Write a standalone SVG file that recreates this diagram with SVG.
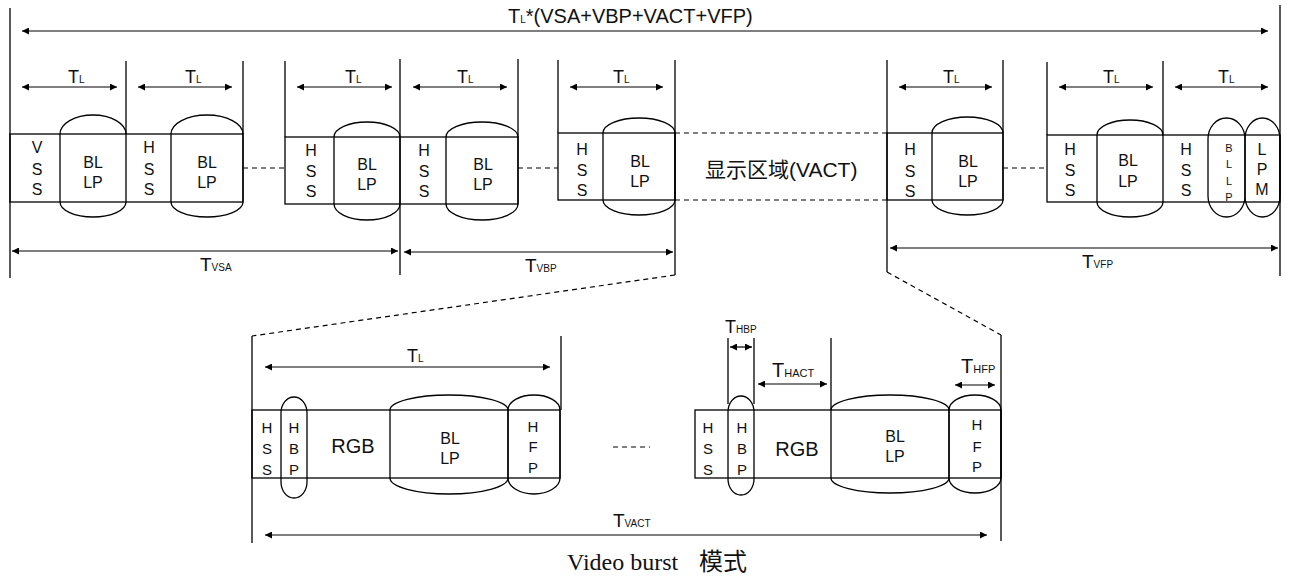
<svg xmlns="http://www.w3.org/2000/svg" width="1290" height="583" viewBox="0 0 1290 583">
<defs>
<marker id="ah" viewBox="0 0 10 10" refX="10" refY="5" markerWidth="9" markerHeight="7" markerUnits="userSpaceOnUse" orient="auto-start-reverse"><path d="M0,0 L10,5 L0,10 z" fill="#000"/></marker>
<style>
.ln{stroke:#000;stroke-width:1.3;fill:none}
.ar{stroke:#000;stroke-width:1.2;fill:none;marker-start:url(#ah);marker-end:url(#ah)}
.dash{stroke:#000;stroke-width:1.2;fill:none;stroke-dasharray:5 4}
.sh{stroke:#000;stroke-width:1.3;fill:none}
.t{font-family:"Liberation Sans","Noto Sans",sans-serif;font-size:16px;fill:#111;text-anchor:middle}
.s{font-size:15px}
.xs{font-size:11px}
.lb{font-family:"Liberation Sans","Noto Sans",sans-serif;fill:#111;font-size:19px}
.sub{font-size:10px}
.cap{font-family:"Liberation Serif","Noto Sans CJK SC",serif;font-size:24px;fill:#111}
</style>
</defs>

<g id="connectors">
  <line class="ln" x1="10" y1="8" x2="10" y2="278"/>
  <line class="ln" x1="1280" y1="5" x2="1280" y2="276"/>
  <line class="ln" x1="126" y1="61" x2="126" y2="134"/>
  <line class="ln" x1="243" y1="61" x2="243" y2="134"/>
  <line class="ln" x1="285" y1="61" x2="285" y2="137"/>
  <line class="ln" x1="400" y1="59" x2="400" y2="275"/>
  <line class="ln" x1="518" y1="59" x2="518" y2="137"/>
  <line class="ln" x1="558" y1="60" x2="558" y2="133"/>
  <line class="ln" x1="675" y1="60" x2="675" y2="275"/>
  <line class="ln" x1="887" y1="60" x2="887" y2="272"/>
  <line class="ln" x1="1003" y1="60" x2="1003" y2="133"/>
  <line class="ln" x1="1047" y1="62" x2="1047" y2="135"/>
  <line class="ln" x1="1163" y1="61" x2="1163" y2="135"/>
  <line class="ar" x1="22" y1="31" x2="1268" y2="31"/>
  <line class="ar" x1="22" y1="87" x2="117" y2="87"/>
  <line class="ar" x1="138" y1="87" x2="232" y2="87"/>
  <line class="ar" x1="297" y1="87" x2="392" y2="87"/>
  <line class="ar" x1="413" y1="87" x2="507" y2="87"/>
  <line class="ar" x1="570" y1="87" x2="663" y2="87"/>
  <line class="ar" x1="899" y1="87" x2="992" y2="87"/>
  <line class="ar" x1="1059" y1="87" x2="1153" y2="87"/>
  <line class="ar" x1="1175" y1="87" x2="1268" y2="87"/>
  <line class="ar" x1="12" y1="251" x2="398" y2="251"/>
  <line class="ar" x1="404" y1="252" x2="673" y2="252"/>
  <line class="ar" x1="890" y1="248" x2="1278" y2="248"/>
  <line class="dash" x1="243" y1="168" x2="285" y2="168"/>
  <line class="dash" x1="518" y1="168" x2="558" y2="168"/>
  <line class="dash" x1="1003" y1="168" x2="1047" y2="168"/>
  <line class="dash" x1="675" y1="133" x2="887" y2="133"/>
  <line class="dash" x1="675" y1="200" x2="887" y2="200"/>
  <line class="dash" x1="675" y1="275" x2="252" y2="336"/>
  <line class="dash" x1="887" y1="272" x2="1001" y2="335"/>
  <line class="ln" x1="252" y1="336" x2="252" y2="543"/>
  <line class="ln" x1="561" y1="336" x2="561" y2="410"/>
  <line class="ln" x1="1001" y1="335" x2="1001" y2="541"/>
  <line class="ln" x1="728" y1="338" x2="728" y2="404"/>
  <line class="ln" x1="754" y1="338" x2="754" y2="404"/>
  <line class="ln" x1="831" y1="338" x2="831" y2="410"/>
  <line class="ar" x1="265" y1="367" x2="550" y2="367"/>
  <line class="ar" x1="265" y1="535" x2="987" y2="535"/>
  <line class="ar" x1="730" y1="347" x2="752" y2="347"/>
  <line class="ar" x1="758" y1="384" x2="827" y2="384"/>
  <line class="ar" x1="955" y1="385" x2="995" y2="385"/>
  <line class="dash" x1="613" y1="447" x2="650" y2="447"/>
</g>

<g id="labels">
  <text class="lb" x="508" y="23" style="font-size:20px">T<tspan class="sub">L</tspan>*(VSA+VBP+VACT+VFP)</text>
  <text class="lb" x="68" y="83" style="font-size:18px">T<tspan class="sub">L</tspan></text>
  <text class="lb" x="185" y="83" style="font-size:18px">T<tspan class="sub">L</tspan></text>
  <text class="lb" x="345" y="83" style="font-size:18px">T<tspan class="sub">L</tspan></text>
  <text class="lb" x="457" y="83" style="font-size:18px">T<tspan class="sub">L</tspan></text>
  <text class="lb" x="613" y="83" style="font-size:18px">T<tspan class="sub">L</tspan></text>
  <text class="lb" x="943" y="83" style="font-size:18px">T<tspan class="sub">L</tspan></text>
  <text class="lb" x="1103" y="83" style="font-size:18px">T<tspan class="sub">L</tspan></text>
  <text class="lb" x="1218" y="83" style="font-size:18px">T<tspan class="sub">L</tspan></text>
  <text class="lb" x="200" y="271">T<tspan class="sub">VSA</tspan></text>
  <text class="lb" x="525" y="272">T<tspan class="sub">VBP</tspan></text>
  <text class="lb" x="1082" y="268">T<tspan class="sub">VFP</tspan></text>
  <text class="lb" x="705" y="177" style="font-family:'Liberation Sans','Noto Sans CJK SC',sans-serif;font-size:21px">显示区域(VACT)</text>
  <text class="lb" x="407" y="362" style="font-size:18px">T<tspan class="sub">L</tspan></text>
  <text class="lb" x="613" y="527">T<tspan class="sub">VACT</tspan></text>
  <text class="lb" x="725" y="333" style="font-size:18px">T<tspan class="sub">HBP</tspan></text>
  <text class="lb" x="772" y="377" style="font-size:20px">T<tspan class="sub" style="font-size:11px">HACT</tspan></text>
  <text class="lb" x="961" y="373" style="font-size:20px">T<tspan class="sub" style="font-size:11px">HFP</tspan></text>
  <text class="cap" x="567" y="570">Video burst <tspan x="699">模式</tspan></text>
</g>

<g id="block-vsa">
  <rect class="sh" x="10" y="134" width="233" height="68"/>
  <path class="sh" d="M60,134 V202 A33,15 0 0 0 126,202 V134 A33,19 0 0 0 60,134 Z"/>
  <path class="sh" d="M171,134 V202 A36,15 0 0 0 243,202 V134 A36,19 0 0 0 171,134 Z"/>
  <text class="t" x="37" y="153">V</text><text class="t" x="37" y="175">S</text><text class="t" x="37" y="195">S</text>
  <text class="t" x="93" y="168">BL</text><text class="t" x="93" y="188">LP</text>
  <text class="t" x="149" y="153">H</text><text class="t" x="149" y="175">S</text><text class="t" x="149" y="195">S</text>
  <text class="t" x="207" y="168">BL</text><text class="t" x="207" y="188">LP</text>
</g>

<g id="block-vbp-1">
  <rect class="sh" x="285" y="137" width="233" height="67"/>
  <path class="sh" d="M334,137 V204 A33,16 0 0 0 400,204 V137 A33,15 0 0 0 334,137 Z"/>
  <path class="sh" d="M446,137 V204 A36,16 0 0 0 518,204 V137 A36,15 0 0 0 446,137 Z"/>
  <text class="t" x="311" y="156">H</text><text class="t" x="311" y="177">S</text><text class="t" x="311" y="197">S</text>
  <text class="t" x="367" y="170">BL</text><text class="t" x="367" y="190">LP</text>
  <text class="t" x="424" y="156">H</text><text class="t" x="424" y="177">S</text><text class="t" x="424" y="197">S</text>
  <text class="t" x="483" y="170">BL</text><text class="t" x="483" y="190">LP</text>
</g>

<g id="block-vbp-2">
  <rect class="sh" x="558" y="133" width="117" height="67"/>
  <path class="sh" d="M603,133 V200 A36,15 0 0 0 675,200 V133 A36,15 0 0 0 603,133 Z"/>
  <text class="t" x="582" y="155">H</text><text class="t" x="582" y="176">S</text><text class="t" x="582" y="196">S</text>
  <text class="t" x="640" y="167">BL</text><text class="t" x="640" y="187">LP</text>
</g>

<g id="block-vfp-1">
  <rect class="sh" x="887" y="133" width="116" height="67"/>
  <path class="sh" d="M932,133 V200 A35.5,15 0 0 0 1003,200 V133 A35.5,16 0 0 0 932,133 Z"/>
  <text class="t" x="910" y="155">H</text><text class="t" x="910" y="177">S</text><text class="t" x="910" y="197">S</text>
  <text class="t" x="968" y="167">BL</text><text class="t" x="968" y="187">LP</text>
</g>

<g id="block-vfp-2">
  <rect class="sh" x="1047" y="135" width="233" height="67"/>
  <path class="sh" d="M1097,135 V202 A33,15 0 0 0 1163,202 V135 A33,15 0 0 0 1097,135 Z"/>
  <rect class="sh" x="1208" y="118" width="37" height="99" rx="18.5" ry="21"/>
  <rect class="sh" x="1245" y="118" width="35" height="99" rx="17.5" ry="21"/>
  <text class="t" x="1070" y="155">H</text><text class="t" x="1070" y="176">S</text><text class="t" x="1070" y="196">S</text>
  <text class="t" x="1128" y="166">BL</text><text class="t" x="1128" y="187">LP</text>
  <text class="t" x="1186" y="155">H</text><text class="t" x="1186" y="176">S</text><text class="t" x="1186" y="196">S</text>
  <text class="t xs" x="1229" y="152">B</text><text class="t xs" x="1229" y="168">L</text><text class="t xs" x="1229" y="185">L</text><text class="t xs" x="1229" y="201">P</text>
  <text class="t" x="1262" y="155">L</text><text class="t" x="1262" y="175">P</text><text class="t" x="1262" y="195">M</text>
</g>

<g id="line-left">
  <rect class="sh" x="252" y="410" width="308" height="68"/>
  <rect class="sh" x="281" y="397" width="26" height="101" rx="13" ry="16"/>
  <path class="sh" d="M390,410 V478 A59,16 0 0 0 508,478 V410 A59,15 0 0 0 390,410 Z"/>
  <path class="sh" d="M508,410 V478 A26,16 0 0 0 560,478 V410 A26,15 0 0 0 508,410 Z"/>
  <text class="t s" x="267" y="433">H</text><text class="t s" x="267" y="454">S</text><text class="t s" x="267" y="475">S</text>
  <text class="t s" x="294" y="433">H</text><text class="t s" x="294" y="454">B</text><text class="t s" x="294" y="475">P</text>
  <text class="t" x="353" y="453" style="font-size:20px">RGB</text>
  <text class="t" x="450" y="444">BL</text><text class="t" x="450" y="464">LP</text>
  <text class="t s" x="533" y="432">H</text><text class="t s" x="533" y="452">F</text><text class="t s" x="533" y="473">P</text>
</g>

<g id="line-right">
  <rect class="sh" x="695" y="410" width="306" height="68"/>
  <rect class="sh" x="728" y="396" width="26" height="99" rx="13" ry="16"/>
  <path class="sh" d="M831,410 V478 A59,15 0 0 0 949,478 V410 A59,15 0 0 0 831,410 Z"/>
  <path class="sh" d="M949,410 V478 A26,15 0 0 0 1001,478 V410 A26,15 0 0 0 949,410 Z"/>
  <text class="t s" x="708" y="433">H</text><text class="t s" x="708" y="454">S</text><text class="t s" x="708" y="475">S</text>
  <text class="t s" x="742" y="433">H</text><text class="t s" x="742" y="454">B</text><text class="t s" x="742" y="475">P</text>
  <text class="t" x="797" y="456" style="font-size:20px">RGB</text>
  <text class="t" x="895" y="442">BL</text><text class="t" x="895" y="462">LP</text>
  <text class="t s" x="977" y="430">H</text><text class="t s" x="977" y="452">F</text><text class="t s" x="977" y="472">P</text>
</g>
</svg>
